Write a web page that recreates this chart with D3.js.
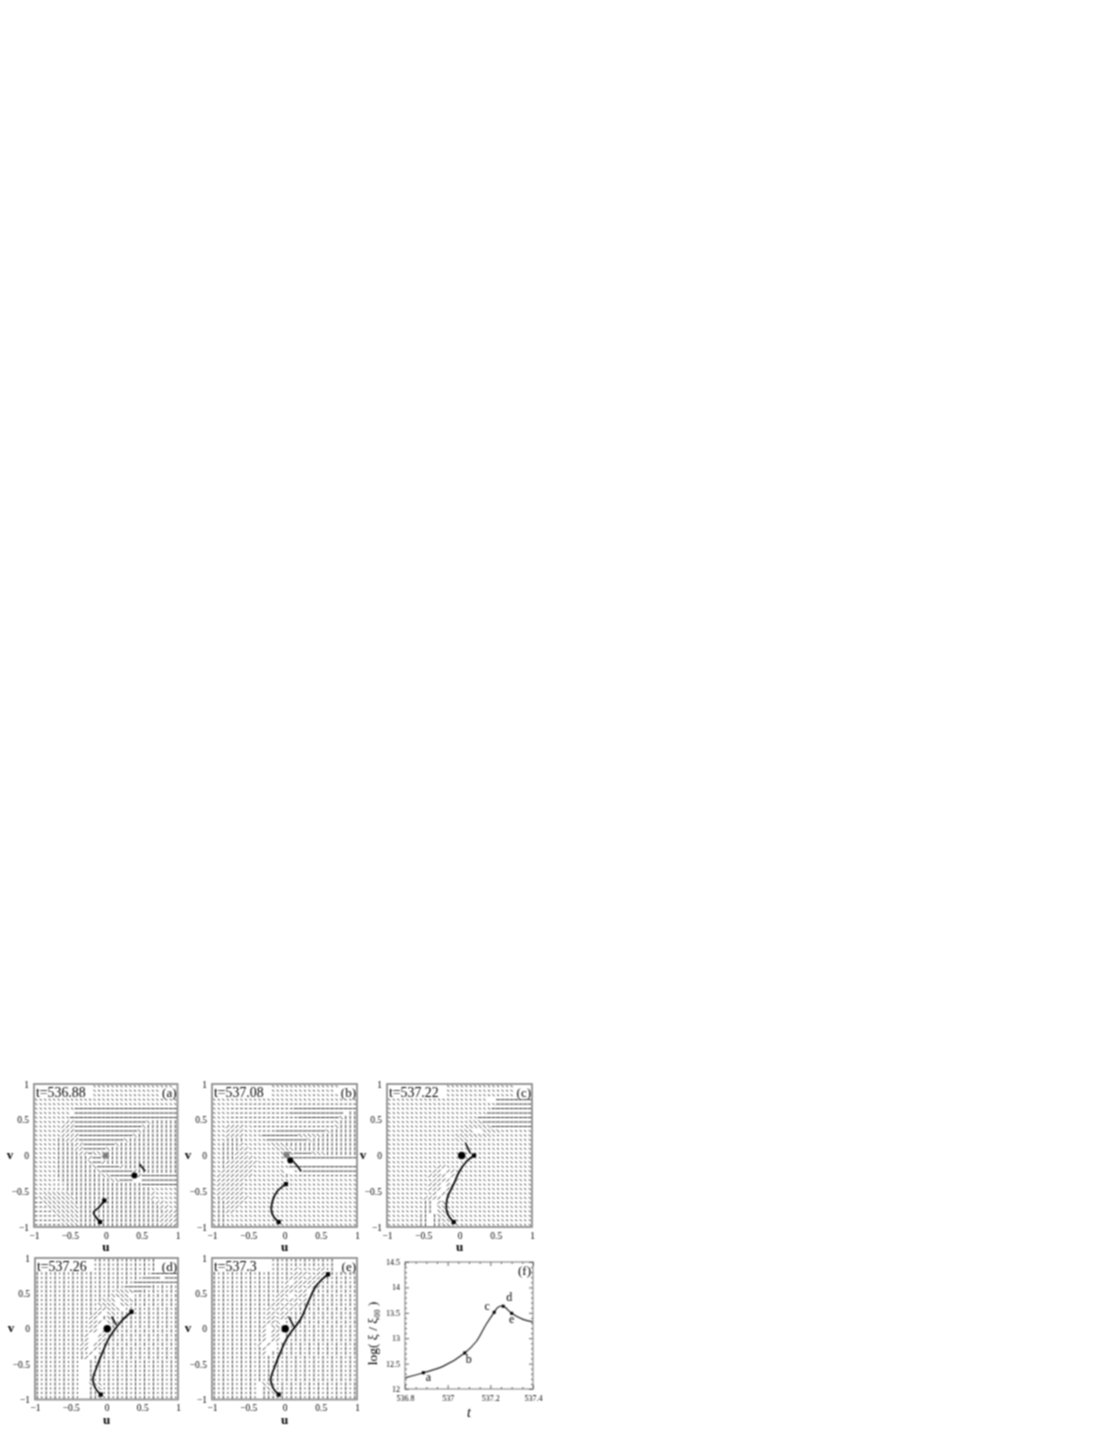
<!DOCTYPE html>
<meta charset="utf-8">
<head>
<style>
  body { margin: 0; background: #fff; }
  svg { display: block; font-family: "Liberation Serif", serif; }
  .frame { fill: none; stroke: #8f8f8f; stroke-width: 1.8; }
  .tick line { stroke: #666; }
  .tick text { font-size: 9.5px; fill: #000; font-family: "Liberation Serif", serif; }
  .arrow { stroke: #333; stroke-width: 1; fill: none; }
  .front { fill: none; stroke: #000; stroke-width: 1.7; stroke-linejoin: round; }
</style>
<script src="https://d3js.org/d3.v7.min.js"></script>
</head>
<body>
<script>
// arrow direction per grid cell
// - horizontal, , short horizontal, | vertical, : short vertical,
// / and x diagonals, . short arrow, blank = no arrow
var fieldA = [
"             ..................    ",
"             ...............       ",
"             ...............       ",
"................................",
"................................",
".........-----------------------",
"........ -----------------------",
"........------------------------",
".......//----------------x||||||",
"......///---------------x|||||||",
"......///--------------x||||||||",
"......////------------x|||||||||",
".....||///----------x|||||||||||",
".....||||//-------x|||||||||||||",
".....||||//-----x|||||||||||||||",
".....|||||//-xxx||||||||||||||||",
".....|||||||/--x||||||||||||||||",
".....|||||||x--/||||||||||||||||",
".....||||||||x-----/||||||||||||",
".....|||||||||x-------/|||||||||",
"....:||||||||||xx-----//--------",
"....::|||||||||||xx---  --------",
"....:::|||||||||||||||||--------",
"...::::|||||||||||||||||||......",
"..xxxxxx||||||||||||||||||/.....",
",xxxxxxxx|||||||||||||||||/.....",
",,xxxxxxx||||||||||||||||||//...",
",,,xxxxxxx||||||||||||||||||//..",
",,,,xxxxxx|||||||||||||||||||///",
",,,,,xxxxx||||||||||||||||||////",
",,,,,,xxxx||||||||||||||||||////",
",,,,,,xxxx||||||||||||||||||////"
];
var fieldB = [
"             ...............     ",
"             ..............      ",
"             ...............     ",
"................................",
"......,,,,,,,,,,,,,,,,,,,,,,,,,,",
"....,,,,,,,,,,,,,,--------------",
"....,,,,,,,,,,,,,------------ ||",
"....,,,,,,,,,,,,,,,---------x|||",
"....,,,,,,,,,,,,,,,,,,,,,,,x||||",
"...////..,,,,,,,,,,,,,,,,,,x||||",
"...////...,,,,-----------x||||||",
"...////....--------xxxxx||||||||",
"...||||.....---------x||||||||||",
"..||||/......xxx||||||||||||||||",
"..||||//......xxxx||||||||||||||",
"..|||///.......xxx----xxx|||||||",
"..|||////.......x---------------",
"..|///////......                ",
"..|//////........---------------",
"..///////......x  ..------------",
".////////......x|..,,,,,,,,,,,,,",
".//////.........................",
".//////.........................",
".//////.........................",
".//////.........................",
".|//////........................",
".||////.........................",
".||///..........................",
".||//...........................",
".||.............................",
".||.............................",
".||............................."
];
var fieldC = [
"             ...............     ",
"             ...............     ",
"             ...............     ",
"......................  --------",
"........................--------",
".......................---------",
"......................----------",
"....................------------",
"..................xxx-----------",
".................xxxxxx---------",
"................xxx  xxxx.......",
"...............xxxxxxxx.........",
"...............xxx..............",
"................................",
"................................",
"................................",
"................................",
"................................",
"...........//...................",
"..........// //.................",
".........//// /.................",
"..........//// /................",
"........./// //.................",
"........./// /..................",
"........../ //..................",
"........//// /..................",
"........|| /x...................",
"........|| xxx..................",
"........|| xxx..................",
".......|| |xxxx.................",
".......|| ||xxx.................",
".......|| ||xx.................."
];
var fieldD = [
"             :|:|:|:|:|:|:|     ",
"             :|:|:|:|:|:|:|     ",
"             :|:|:|:|:|:|:|     ",
"|:|:|:|:|:|:|:|:|:|:|:|:|:------",
"|:|:|:|:|:|:|:|:|:|:|:|:---- ---",
"|:|:|:|:|:|:|:|:|:|:|:----------",
"|:|:|:|:|:|:|:|:|:|:------|:|:|:",
"|:|:|:|:|:|:|:|:|:xxxx--|:|:|:|:",
"|:|:|:|:|:|:|:|:|xxxx :|:|:|:|:|",
"|:|:|:|:|:|:|:|xxx xxx|:|:|:|:|:",
"|:|:|:|:|:|:|:xxxx xx:|:|:|:|:|:",
"|:|:|:|:|:|:|://xxx :|:|:|:|:|:|",
"|:|:|:|:|:|:|// xx:|:|:|:|:|:|:|",
"|:|:|:|:|:|:// |x|:|:|:|:|:|:|:|",
"|:|:|:|:|:|:/// x|:|:|:|:|:|:|:|",
"|:|:|:|:|:|://  x|:|:|:|:|:|:|:|",
"|:|:|:|:|:|:// //:|:|:|:|:|:|:|:",
"|:|:|:|:|:|/  //:|:|:|:|:|:|:|:|",
"|:|:|:|:|:|/  //:|:|:|:|:|:|:|:|",
"|:|:|:|:|:// //:|:|:|:|:|:|:|:|:",
"|:|:|:|:|:// /:|:|:|:|:|:|:|:|:|",
"|:|:|:|:|:|:/ :|:|:|:|:|:|:|:|:|",
"|:|:|:|:|:|/ |:|:|:|:|:|:|:|:|:|",
"|:|:|:|:|:  |:|:|:|:|:|:|:|:|:|:",
"|:|:|:|:|:  |:|:|:|:|:|:|:|:|:|:",
"|:|:|:|:|:  |:|:|:|:|:|:|:|:|:|:",
"|:|:|:|:|:  |:|:|:|:|:|:|:|:|:|:",
"|:|:|:|:|:  |:|:|:|:|:|:|:|:|:|:",
"|:|:|:|:|:  xxx:|:|:|:|:|:|:|:|:",
"|:|:|:|:|:  |xx:|:|:|:|:|:|:|:|:",
"|:|:|:|:|:  ||x:|:|:|:|:|:|:|:|:",
"|:|:|:|:|:  ||x:|:|:|:|:|:|:|:|:"
];
var fieldE = [
"             :|:|:|:|:|:|:|     ",
"             :|:|:|:|:|:|:|     ",
"             :|:|:/....//:|     ",
"|:|:|:|:|:|:|:|:|:///..//:|:|:|:",
"|:|:|:|:|:|:|:|:|///.////|:|:|:|",
"|:|:|:|:|:|:|:|:/ ///// :|:|:|:|",
"|:|:|:|:|:|:|:|:////.///|:|:|:|:",
"|:|:|:|:|:|:|:|///.// :|:|:|:|:|",
"|:|:|:|:|:|:|://. .// |:|:|:|:|:",
"|:|:|:|:|:|:|://.//./:|:|:|:|:|:",
"|:|:|:|:|:|:|//././/|:|:|:|:|:|:",
"|:|:|:|:|:|:/.//./:|:|:|:|:|:|:|",
"|:|:|:|:|:|://.//:|:|:|:|:|:|:|:",
"|:|:|:|:|:|://.//:|:|:|:|:|:|:|:",
"|:|:|:|:|:|://x :|:|:|:|:|:|:|:|",
"|:|:|:|:|:|/ xx:|:|:|:|:|:|:|:|:",
"|:|:|:|:|:|/ //:|:|:|:|:|:|:|:|:",
"|:|:|:|:|:|/ // |:|:|:|:|:|:|:|:",
"|:|:|:|:|:|/ // |:|:|:|:|:|:|:|:",
"|:|:|:|:|:/ / :|:|:|:|:|:|:|:|:|",
"|:|:|:|:|:|/  :|:|:|:|:|:|:|:|:|",
"|:|:|:|:|:|/ |:|:|:|:|:|:|:|:|:|",
"|:|:|:|:|:|:|:|:|:|:|:|:|:|:|:|:",
"|:|:|:|:|:|:|:|:|:|:|:|:|:|:|:|:",
"|:|:|:|:|:|:|:|:|:|:|:|:|:|:|:|:",
"|:|:|:|:|:|:|:|:|:|:|:|:|:|:|:|:",
"|:|:|:|:|:|:|:|:|:|:|:|:|:|:|:|:",
"|:|:|:|:|:|:|:|:|:|:|:|:|:|:|:|:",
"|:|:|:|:|: xxx:|:|:|:|:|:|:|:|:|",
"|:|:|:|:|: |xx:|:|:|:|:|:|:|:|:|",
"|:|:|:|:|: ||x:|:|:|:|:|:|:|:|:|",
"|:|:|:|:|: |||:|:|:|:|:|:|:|:|:|"
];

// dark curve through the panel, [u, v]
var curveA = [[-0.02,-0.63],[-0.09,-0.72],[-0.17,-0.8],[-0.13,-0.87],[-0.08,-0.93]];
var curveB = [[0.02,-0.4],[-0.1,-0.5],[-0.17,-0.65],[-0.18,-0.78],[-0.14,-0.87],[-0.08,-0.93]];
var curveC = [[0.2,0],[0.1,-0.08],[0,-0.22],[-0.08,-0.4],[-0.17,-0.6],[-0.18,-0.76],[-0.14,-0.86],[-0.08,-0.93]];
var curveD = [[0.35,0.24],[0.22,0.12],[0.11,-0.02],[0.03,-0.14],[-0.05,-0.32],[-0.14,-0.55],[-0.19,-0.72],[-0.15,-0.85],[-0.08,-0.93]];
var curveE = [[0.6,0.77],[0.5,0.68],[0.42,0.58],[0.32,0.36],[0.22,0.13],[0.11,-0.02],[0.03,-0.14],[-0.05,-0.32],[-0.14,-0.55],[-0.19,-0.72],[-0.15,-0.85],[-0.08,-0.93]];

// short branch next to the front
var branchA = [[0.47,-0.12],[0.55,-0.22]];
var branchB = [[0.12,-0.08],[0.18,-0.15],[0.23,-0.22]];
var branchC = [[0.15,0.03],[0.08,0.18]];
var branchD = [[0.14,0.05],[0.07,0.17]];
var branchE = [[0.13,0.03],[0.06,0.17]];

var uvTicks = [-1, -0.5, 0, 0.5, 1];
var uLabels = ["\u22121", "\u22120.5", "0", "0.5", "1"];
var vLabels = ["\u22121", "\u22120.5", "0", "0.5", "1"];

var times = ["t=536.88", "t=537.08", "t=537.22", "t=537.26", "t=537.3"];
var tags = ["(a)", "(b)", "(c)", "(d)", "(e)"];
var nulls = [[0.4,-0.28], [0.08,-0.07], [0.03,0], [0.01,0], [0.01,0]];
var greyNull = [[0,0], [0.03,0.01], null, null, null];

// panel (f)
var tValues = [536.8, 536.886, 536.98, 537.08, 537.135, 537.18, 537.218, 537.236, 537.26, 537.30, 537.353, 537.4];
var logValues = [12.22, 12.32, 12.45, 12.71, 12.94, 13.27, 13.51, 13.61, 13.63, 13.49, 13.37, 13.32];
var tTicks = [536.8, 537, 537.2, 537.4];
var tLabels = ["536.8", "537", "537.2", "537.4"];
var tMinor = [536.85, 536.9, 536.95, 537.05, 537.1, 537.15, 537.25, 537.3, 537.35];
var logTicks = [12, 12.5, 13, 13.5, 14, 14.5];
var logMinor = [12.1, 12.2, 12.3, 12.4, 12.6, 12.7, 12.8, 12.9, 13.1, 13.2, 13.3, 13.4, 13.6, 13.7, 13.8, 13.9, 14.1, 14.2, 14.3, 14.4];
var markT = [536.886, 537.08, 537.218, 537.26, 537.30];
var markLog = [12.32, 12.71, 13.51, 13.63, 13.49];
var markNames = ["a", "b", "c", "d", "e"];

var page = d3.select("body").append("svg").attr("width", 1105).attr("height", 1430);

// the reference is a soft low-res scan: small 3x3 smoothing kernel
page.append("defs").append("filter").attr("id", "soft")
  .attr("filterUnits", "userSpaceOnUse")
  .attr("x", 0).attr("y", 0).attr("width", 1105).attr("height", 1430)
  .attr("color-interpolation-filters", "sRGB")
  .append("feConvolveMatrix")
  .attr("order", 3)
  .attr("kernelMatrix", "1 2 1 2 4 2 1 2 1")
  .attr("divisor", 16)
  .attr("preserveAlpha", "false");

var svg = page.append("g").attr("filter", "url(#soft)");

var fields = [fieldA, fieldB, fieldC, fieldD, fieldE];
var curves = [curveA, curveB, curveC, curveD, curveE];
var branches = [branchA, branchB, branchC, branchD, branchE];
var boxes = [
  {x: 34, y: 1084, w: 143.5, h: 143},
  {x: 212, y: 1084, w: 145, h: 143},
  {x: 387, y: 1084, w: 145, h: 143},
  {x: 35, y: 1258, w: 143, h: 141.5},
  {x: 212, y: 1258, w: 145, h: 141.5}
];

// half length of an arrow stroke and its direction
var seg = {
  "-": [2.0, 0], ",": [1.2, 0], "|": [0, 1.6], ":": [0, 0.9],
  "/": [1.4, -1.4], "x": [1.4, 1.4], ".": [1.0, 0.6]
};

boxes.forEach(function(b, p) {
  var x = d3.scaleLinear().domain([-1, 1]).range([0, b.w]);
  var y = d3.scaleLinear().domain([-1, 1]).range([b.h, 0]);
  var g = svg.append("g").attr("transform", "translate(" + b.x + "," + b.y + ")");

  var cells = [];
  fields[p].forEach(function(row, r) {
    for (var c = 0; c < 32; c++) {
      var ch = row.charAt(c);
      if (seg[ch]) cells.push({u: -1 + (c + 0.5) / 16, v: 1 - (r + 0.5) / 16, ch: ch});
    }
  });

  g.selectAll(".arrow").data(cells).enter().append("line")
    .attr("class", "arrow")
    .attr("x1", function(d) { return x(d.u) - seg[d.ch][0]; })
    .attr("x2", function(d) { return x(d.u) + seg[d.ch][0]; })
    .attr("y1", function(d) { return y(d.v) - seg[d.ch][1]; })
    .attr("y2", function(d) { return y(d.v) + seg[d.ch][1]; });

  var line = d3.line().x(function(d) { return x(d[0]); }).y(function(d) { return y(d[1]); });
  var smooth = d3.line().curve(d3.curveCatmullRom).x(function(d) { return x(d[0]); }).y(function(d) { return y(d[1]); });

  g.append("path").attr("class", "front").attr("d", smooth(curves[p]));
  g.append("path").attr("class", "front").style("stroke-width", 1.5).attr("d", line(branches[p]));

  // end squares of the front
  var ends = [curves[p][0], curves[p][curves[p].length - 1]];
  g.selectAll(".end").data(ends).enter().append("path")
    .attr("class", "end")
    .attr("fill", "#000")
    .attr("transform", function(d) { return "translate(" + x(d[0]) + "," + y(d[1]) + ")"; })
    .attr("d", d3.symbol().type(d3.symbolSquare).size(18));

  if (greyNull[p]) {
    g.append("path").attr("fill", "#808080")
      .attr("transform", "translate(" + x(greyNull[p][0]) + "," + y(greyNull[p][1]) + ")")
      .attr("d", d3.symbol().type(d3.symbolSquare).size(36));
  }
  g.append("circle").attr("cx", x(nulls[p][0])).attr("cy", y(nulls[p][1]))
    .attr("r", p < 2 ? 3 : 3.7).attr("fill", "#000");

  g.append("rect").attr("class", "frame").attr("width", b.w).attr("height", b.h);

  g.append("g").attr("transform", "translate(0," + b.h + ")")
    .call(d3.axisBottom(x).tickValues(uvTicks).tickSize(0).tickPadding(5)
      .tickFormat(function(d, i) { return uLabels[i]; }))
    .call(function(s) { s.select(".domain").remove(); });
  g.append("g")
    .call(d3.axisLeft(y).tickValues(uvTicks).tickSize(0).tickPadding(5)
      .tickFormat(function(d, i) { return vLabels[i]; }))
    .call(function(s) { s.select(".domain").remove(); });

  g.append("text").attr("x", 2).attr("y", 13).attr("font-size", 13.8).attr("fill", "#000").text(times[p]);
  g.append("text").attr("x", b.w - 1).attr("y", 13).attr("text-anchor", "end")
    .attr("font-size", 13).attr("fill", "#000").text(tags[p]);
  g.append("text").attr("x", b.w / 2).attr("y", b.h + 24).attr("text-anchor", "middle")
    .attr("font-size", 13).attr("font-weight", "bold").attr("fill", "#000").text("u");
  g.append("text").attr("x", -24).attr("y", b.h / 2 + 3).attr("text-anchor", "middle")
    .attr("font-size", 13).attr("font-weight", "bold").attr("fill", "#000").text("v");
});

// panel (f)
var fb = {x: 405, y: 1262, w: 128, h: 127};
var tx = d3.scaleLinear().domain([536.8, 537.4]).range([0, fb.w]);
var ly = d3.scaleLinear().domain([12, 14.5]).range([fb.h, 0]);
var fg = svg.append("g").attr("transform", "translate(" + fb.x + "," + fb.y + ")");

fg.append("path").attr("fill", "none").attr("stroke", "#222").attr("stroke-width", 1.2)
  .attr("d", d3.line().curve(d3.curveCatmullRom)
    .x(function(d, i) { return tx(tValues[i]); })
    .y(function(d) { return ly(d); })(logValues));

fg.selectAll(".mark").data(markT).enter().append("path")
  .attr("class", "mark").attr("fill", "#000")
  .attr("transform", function(d, i) { return "translate(" + tx(d) + "," + ly(markLog[i]) + ")"; })
  .attr("d", d3.symbol().type(d3.symbolSquare).size(9));

var labelShift = [[5, 8], [4, 10], [-7, -2], [6, -5], [0, 10]];
fg.selectAll(".name").data(markNames).enter().append("text")
  .attr("class", "name").attr("font-size", 12).attr("fill", "#000").attr("text-anchor", "middle")
  .attr("x", function(d, i) { return tx(markT[i]) + labelShift[i][0]; })
  .attr("y", function(d, i) { return ly(markLog[i]) + labelShift[i][1]; })
  .text(function(d) { return d; });

fg.append("rect").attr("class", "frame").attr("width", fb.w).attr("height", fb.h).style("stroke-width", 1.2);

fg.append("g").attr("transform", "translate(0," + fb.h + ")")
  .call(d3.axisBottom(tx).tickValues(tTicks).tickSize(-4).tickPadding(6)
    .tickFormat(function(d, i) { return tLabels[i]; }))
  .call(function(s) { s.select(".domain").remove(); s.selectAll("text").style("font-size", "8px"); });
fg.append("g")
  .call(d3.axisLeft(ly).tickValues(logTicks).tickSize(-4).tickPadding(5)
    .tickFormat(function(d) { return String(d); }))
  .call(function(s) { s.select(".domain").remove(); s.selectAll("text").style("font-size", "8px"); });
fg.append("g")
  .call(d3.axisTop(tx).tickValues(tTicks).tickSize(-4).tickFormat(""))
  .call(function(s) { s.select(".domain").remove(); });
fg.append("g").attr("transform", "translate(" + fb.w + ",0)")
  .call(d3.axisRight(ly).tickValues(logTicks).tickSize(-4).tickFormat(""))
  .call(function(s) { s.select(".domain").remove(); });

// minor ticks on all four sides
[[d3.axisBottom(tx), tMinor, "translate(0," + fb.h + ")"],
 [d3.axisTop(tx), tMinor, "translate(0,0)"],
 [d3.axisLeft(ly), logMinor, "translate(0,0)"],
 [d3.axisRight(ly), logMinor, "translate(" + fb.w + ",0)"]].forEach(function(a) {
  fg.append("g").attr("transform", a[2])
    .call(a[0].tickValues(a[1]).tickSize(-2).tickFormat(""))
    .call(function(s) { s.select(".domain").remove(); });
});

fg.append("text").attr("x", fb.w - 2).attr("y", 13).attr("text-anchor", "end")
  .attr("font-size", 13).attr("fill", "#000").text("(f)");
fg.append("text").attr("x", fb.w / 2).attr("y", fb.h + 28).attr("text-anchor", "middle")
  .attr("font-size", 14).attr("font-style", "italic").attr("fill", "#000").text("t");

var yl = fg.append("text").attr("transform", "translate(-28," + (fb.h / 2 + 8) + ") rotate(-90)")
  .attr("text-anchor", "middle").attr("font-size", 13.5).attr("fill", "#000");
yl.append("tspan").text("log( \u03BE / \u03BE");
yl.append("tspan").attr("font-size", 8).attr("dy", 3).text("00");
yl.append("tspan").attr("dy", -3).text(" )");
</script>
</body>
